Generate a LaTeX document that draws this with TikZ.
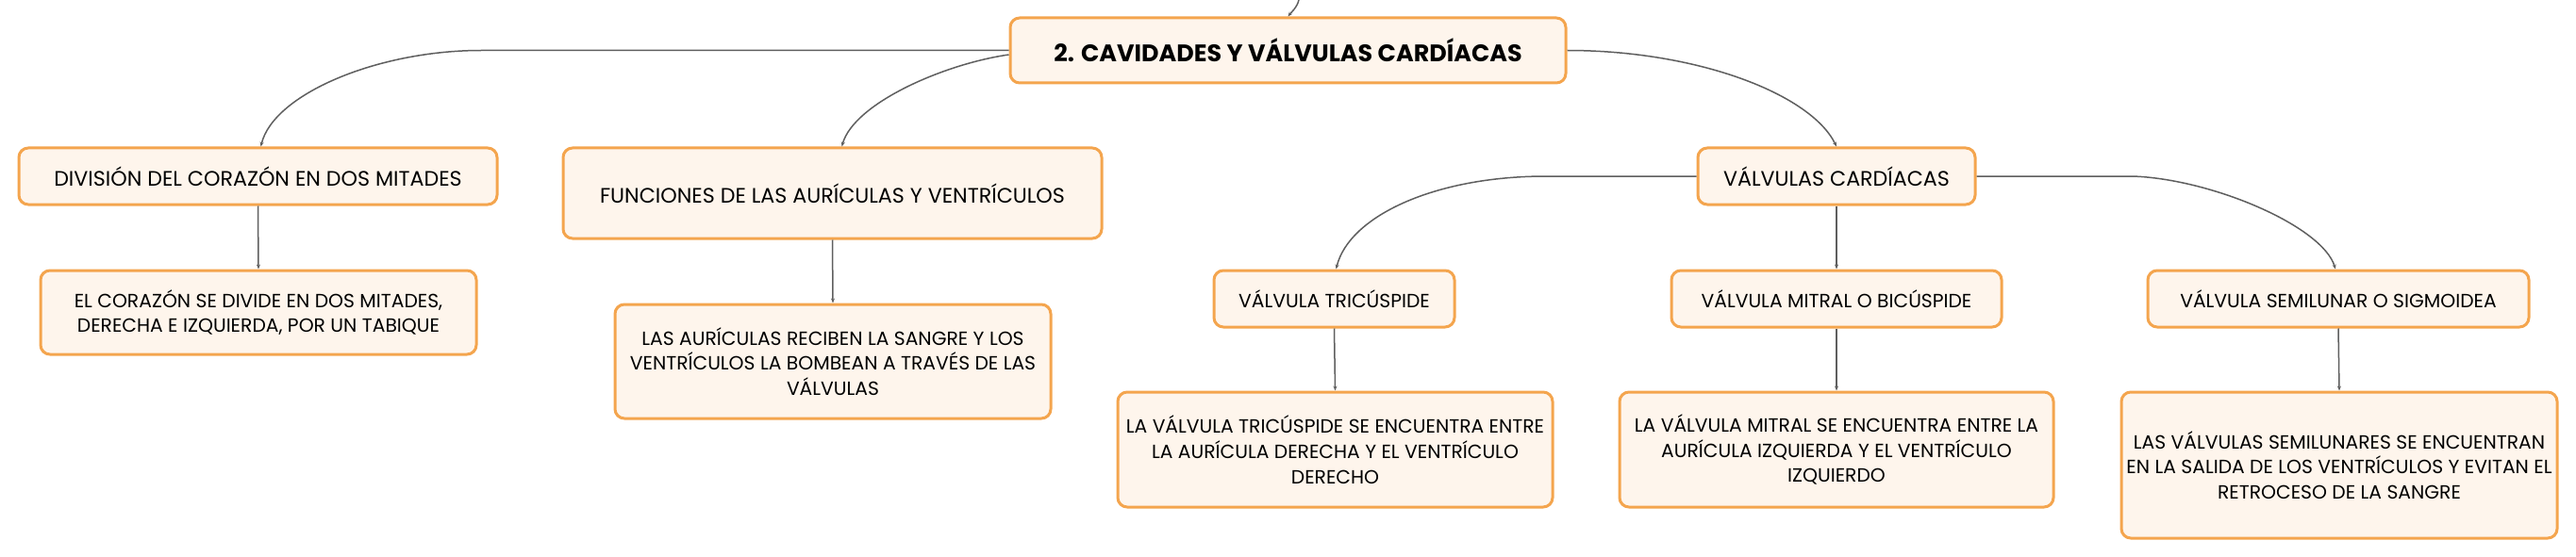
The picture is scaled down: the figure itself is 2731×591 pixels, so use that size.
\documentclass[tikz,border=0pt]{standalone}
\usepackage{fontspec}
\setmainfont{Poppins}
\usetikzlibrary{arrows.meta}
\definecolor{boxborder}{RGB}{244,165,78}
\definecolor{boxfill}{RGB}{254,245,236}
\definecolor{connc}{RGB}{95,95,95}
\tikzset{
  box/.style={draw=boxborder, fill=boxfill, line width=3pt, rounded corners=10pt, inner sep=0pt, align=center, text=black},
  rootbox/.style={box, font=\fontsize{25.4}{30}\selectfont\bfseries},
  lvone/.style={box, font=\fontsize{22.2}{27}\selectfont},
  lvtwo/.style={box, font=\fontsize{20.3}{26.7}\selectfont},
  conn/.style={draw=connc, line width=1.5pt, -{Stealth[length=5pt,width=4pt]}},
}
\begin{document}
\begin{tikzpicture}[x=1pt,y=-1pt]
\useasboundingbox[fill=white] (0,0) rectangle (2731,591);
\node[rootbox, minimum width=589pt, minimum height=69pt] (root) at (1365.5,53.5) {2. CAVIDADES Y VÁLVULAS CARDÍACAS};
\node[lvone, minimum width=507pt, minimum height=60pt] (div) at (273.5,187) {DIVISIÓN DEL CORAZÓN EN DOS MITADES};
\node[lvtwo, minimum width=462pt, minimum height=89pt] (elc) at (274,331.5) {EL CORAZÓN SE DIVIDE EN DOS MITADES,\\DERECHA E IZQUIERDA, POR UN TABIQUE};
\node[lvone, minimum width=571pt, minimum height=96pt] (fun) at (882.5,205) {FUNCIONES DE LAS AURÍCULAS Y VENTRÍCULOS};
\node[lvtwo, minimum width=462pt, minimum height=121pt] (las) at (883,383.5) {LAS AURÍCULAS RECIBEN LA SANGRE Y LOS\\VENTRÍCULOS LA BOMBEAN A TRAVÉS DE LAS\\VÁLVULAS};
\node[lvone, minimum width=294pt, minimum height=60pt] (vc) at (1947,187) {VÁLVULAS CARDÍACAS};
\node[lvtwo, minimum width=255pt, minimum height=60pt] (tri) at (1414.5,317) {VÁLVULA TRICÚSPIDE};
\node[lvtwo, minimum width=350pt, minimum height=60pt] (mit) at (1947,317) {VÁLVULA MITRAL O BICÚSPIDE};
\node[lvtwo, minimum width=404pt, minimum height=60pt] (sem) at (2479,317) {VÁLVULA SEMILUNAR O SIGMOIDEA};
\node[lvtwo, minimum width=461pt, minimum height=122pt] (lvt) at (1415.5,477) {LA VÁLVULA TRICÚSPIDE SE ENCUENTRA ENTRE\\LA AURÍCULA DERECHA Y EL VENTRÍCULO\\DERECHO};
\node[lvtwo, minimum width=460pt, minimum height=122pt] (lvm) at (1947,477) {LA VÁLVULA MITRAL SE ENCUENTRA ENTRE LA\\AURÍCULA IZQUIERDA Y EL VENTRÍCULO\\IZQUIERDO};
\node[lvtwo, minimum width=462pt, minimum height=155pt] (lvs) at (2480,493.5) {LAS VÁLVULAS SEMILUNARES SE ENCUENTRAN\\EN LA SALIDA DE LOS VENTRÍCULOS Y EVITAN EL\\RETROCESO DE LA SANGRE};
\coordinate (topin) at (1377,0);
\draw[conn] (topin) .. controls (1375,8) and (1369,13) .. (root.north);
\draw[conn] (root.west) -- (510,53.5) .. controls (400,53.5) and (290,100) .. ([xshift=3pt]div.north);
\draw[conn] ([yshift=-4.5pt]root.west) .. controls (1000,68) and (905,110) .. ([xshift=10pt]fun.north);
\draw[conn] (root.east) .. controls (1800,53.5) and (1920,100) .. (vc.north);
\draw[conn] (vc.west) -- (1639,187) .. controls (1520,187) and (1430,230) .. ([xshift=2pt]tri.north);
\draw[conn] (vc.south) -- (mit.north);
\draw[conn] (vc.east) -- (2261,187) .. controls (2345,190) and (2462,240) .. ([xshift=-3pt]sem.north);
\draw[conn] (div.south) -- (elc.north);
\draw[conn] (fun.south) -- (las.north);
\draw[conn] (tri.south) -- (lvt.north);
\draw[conn] (mit.south) -- (lvm.north);
\draw[conn] (sem.south) -- (lvs.north);
\end{tikzpicture}
\end{document}
